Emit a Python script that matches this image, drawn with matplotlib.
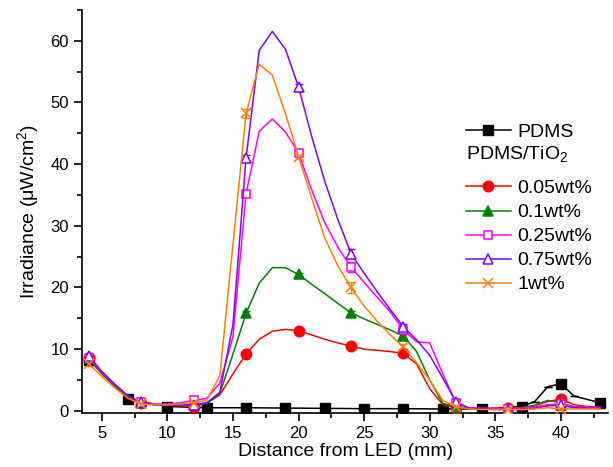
import numpy as np
import matplotlib
matplotlib.use("Agg")
import matplotlib.pyplot as plt
from matplotlib.ticker import MultipleLocator

plt.rcParams['font.family'] = ['Liberation Sans', 'DejaVu Sans']
plt.rcParams['mathtext.fontset'] = 'custom'
plt.rcParams['mathtext.rm'] = 'Liberation Sans'
plt.rcParams['mathtext.it'] = 'Liberation Sans:italic'

# distance from LED (mm), 1 mm steps for the TiO2 samples
distance = np.arange(4, 44)

# bare PDMS, measured every 3 mm plus a few extra points near 40 mm
pdms_x = [4, 7, 10, 13, 16, 19, 22, 25, 28, 31, 34, 37, 38, 39, 40, 41, 43]
pdms_y = [8.3, 1.9, 0.7, 0.5, 0.5, 0.45, 0.4, 0.35, 0.35, 0.3, 0.3, 0.7, 1.5, 3.9, 4.4, 2.4, 1.3]
pdms_err = [0.3, 0.2, 0.3, 0.2, 0.1, 0.1, 0.1, 0.1, 0.1, 0.1, 0.4, 0.1, 0.0, 0.0, 0.2, 0.0, 0.1]

tio2_005 = [8.5, 6.0, 4.0, 2.2, 1.2, 1.0, 0.9, 0.8, 0.7, 1.2,
            2.6, 6.0, 9.2, 11.6, 12.9, 13.2, 13.0, 12.3, 11.6, 11.0,
            10.5, 10.0, 9.8, 9.6, 9.3, 7.6, 3.6, 1.0, 0.5, 0.4,
            0.4, 0.4, 0.5, 0.5, 0.8, 1.5, 1.9, 1.0, 0.7, 0.6]
tio2_01 = [8.5, 6.1, 4.0, 2.2, 1.3, 1.0, 1.0, 1.0, 1.0, 1.2,
           2.8, 9.2, 15.8, 20.7, 23.2, 23.2, 22.1, 20.5, 19.0, 17.4,
           15.9, 14.9, 14.0, 13.1, 12.1, 9.6, 5.0, 1.2, 0.6, 0.4,
           0.3, 0.3, 0.4, 0.5, 0.9, 1.7, 1.3, 0.6, 0.5, 0.5]
tio2_025 = [8.6, 6.3, 4.2, 2.4, 1.4, 1.1, 1.1, 1.3, 1.7, 2.0,
            4.5, 12.0, 35.2, 45.3, 47.3, 45.2, 41.8, 35.8, 30.5, 26.5,
            23.3, 20.8, 18.4, 16.0, 13.1, 11.2, 11.0, 6.0, 1.2, 0.5,
            0.4, 0.4, 0.3, 0.4, 0.6, 1.0, 1.1, 0.7, 0.6, 0.5]
tio2_075 = [8.9, 6.4, 4.3, 2.4, 1.4, 1.0, 0.9, 0.9, 1.0, 1.3,
            3.0, 14.0, 41.0, 58.4, 61.5, 58.6, 52.5, 44.5, 37.2, 31.0,
            25.5, 22.3, 19.3, 16.4, 13.6, 11.5, 9.0, 5.3, 1.5, 0.4,
            0.3, 0.2, 0.2, 0.2, 0.4, 0.8, 0.9, 0.5, 0.4, 0.4]
tio2_1 = [7.6, 5.6, 3.7, 2.0, 1.1, 1.0, 1.0, 1.1, 1.3, 1.7,
          5.7, 27.0, 48.2, 56.2, 54.4, 48.2, 41.2, 34.5, 28.0, 23.5,
          20.0, 17.0, 14.5, 12.3, 10.3, 7.8, 5.0, 1.7, 0.7, 0.3,
          0.2, 0.2, 0.2, 0.2, 0.3, 0.5, 0.3, 0.3, 0.3, 0.3]

# standard deviation at the marked points (4, 8, ..., 40 mm)
err_005 = [0.3, 0.2, 0.2, 0.3, 0.3, 0.3, 0.3, 0.2, 0.2, 0.3]
err_01 = [0.3, 0.2, 0.2, 0.3, 0.3, 0.3, 0.3, 0.2, 0.2, 0.2]
err_025 = [0.3, 0.3, 0.4, 0.4, 0.4, 0.8, 0.5, 0.3, 0.2, 0.2]
err_075 = [0.4, 0.3, 0.2, 0.4, 0.5, 0.7, 0.5, 0.4, 0.2, 0.2]
err_1 = [0.3, 0.2, 0.2, 0.8, 0.4, 0.9, 0.5, 0.2, 0.2, 0.2]

labels = ['0.05wt%', '0.1wt%', '0.25wt%', '0.75wt%', '1wt%']
colors = ['#ff0000', '#008000', '#ff00ff', '#8000ff', '#ff8000']
markers = ['o', '^', 's', '^', 'x']
filled = [True, True, False, False, True]
sizes = [7.5, 7.5, 6, 7.5, 7.5]
series = [tio2_005, tio2_01, tio2_025, tio2_075, tio2_1]
errors = [err_005, err_01, err_025, err_075, err_1]

fig = plt.figure(figsize=(6.13, 4.67), dpi=100)
ax = fig.add_axes([0.134, 0.115, 0.858, 0.864])

# bare PDMS
ax.errorbar(pdms_x, pdms_y, yerr=pdms_err, fmt='none', ecolor='black',
            elinewidth=1, capsize=3, zorder=2)
pdms_marks = [i for i, x in enumerate(pdms_x) if (x - 4) % 3 == 0]
pdms_line, = ax.plot(pdms_x, pdms_y, color='black', lw=1.1, marker='s', ms=6.5,
                     markevery=pdms_marks, zorder=3)

tio2_lines = []
for y, err, lab, c, m, f, s in zip(series, errors, labels, colors, markers, filled, sizes):
    y = np.asarray(y)
    ax.errorbar(distance[::4], y[::4], yerr=err, fmt='none', ecolor=c,
                elinewidth=1, capsize=3, zorder=2)
    ln, = ax.plot(distance, y, color=c, lw=1.1, marker=m, ms=s, markevery=4,
                  markerfacecolor=c if f else 'white', markeredgecolor=c,
                  markeredgewidth=1.1, label=lab, zorder=3)
    tio2_lines.append(ln)

ax.set_xlim(3.5, 43.6)
ax.set_ylim(-0.4, 65)
ax.xaxis.set_major_locator(MultipleLocator(5))
ax.xaxis.set_minor_locator(MultipleLocator(2.5))
ax.yaxis.set_major_locator(MultipleLocator(10))
ax.yaxis.set_minor_locator(MultipleLocator(5))
ax.tick_params(which='both', direction='out', width=1.2, labelsize=12)
ax.tick_params(which='major', length=6, pad=3.5)
ax.tick_params(which='minor', length=3.5)
for side in ['top', 'right']:
    ax.spines[side].set_visible(False)
for side in ['left', 'bottom']:
    ax.spines[side].set_linewidth(1.2)

ax.set_xlabel('Distance from LED (mm)', fontsize=14, labelpad=1)
ax.set_ylabel('Irradiance (μW/cm$^2$)', fontsize=14, labelpad=7)

leg_x = 0.73
leg1 = ax.legend([pdms_line], ['PDMS'], loc='upper left', bbox_to_anchor=(leg_x, 0.718),
                 frameon=False, fontsize=14, handlelength=2.3, handletextpad=0.35,
                 borderaxespad=0, borderpad=0)
ax.add_artist(leg1)
ax.text(leg_x, 0.643, 'PDMS/TiO$_2$', transform=ax.transAxes, fontsize=14,
        ha='left', va='center')
ax.legend(tio2_lines, labels, loc='upper left', bbox_to_anchor=(leg_x, 0.579),
          frameon=False, fontsize=14, handlelength=2.3, handletextpad=0.35,
          labelspacing=0.33, borderaxespad=0, borderpad=0)

fig.savefig('out.png', dpi=100)
